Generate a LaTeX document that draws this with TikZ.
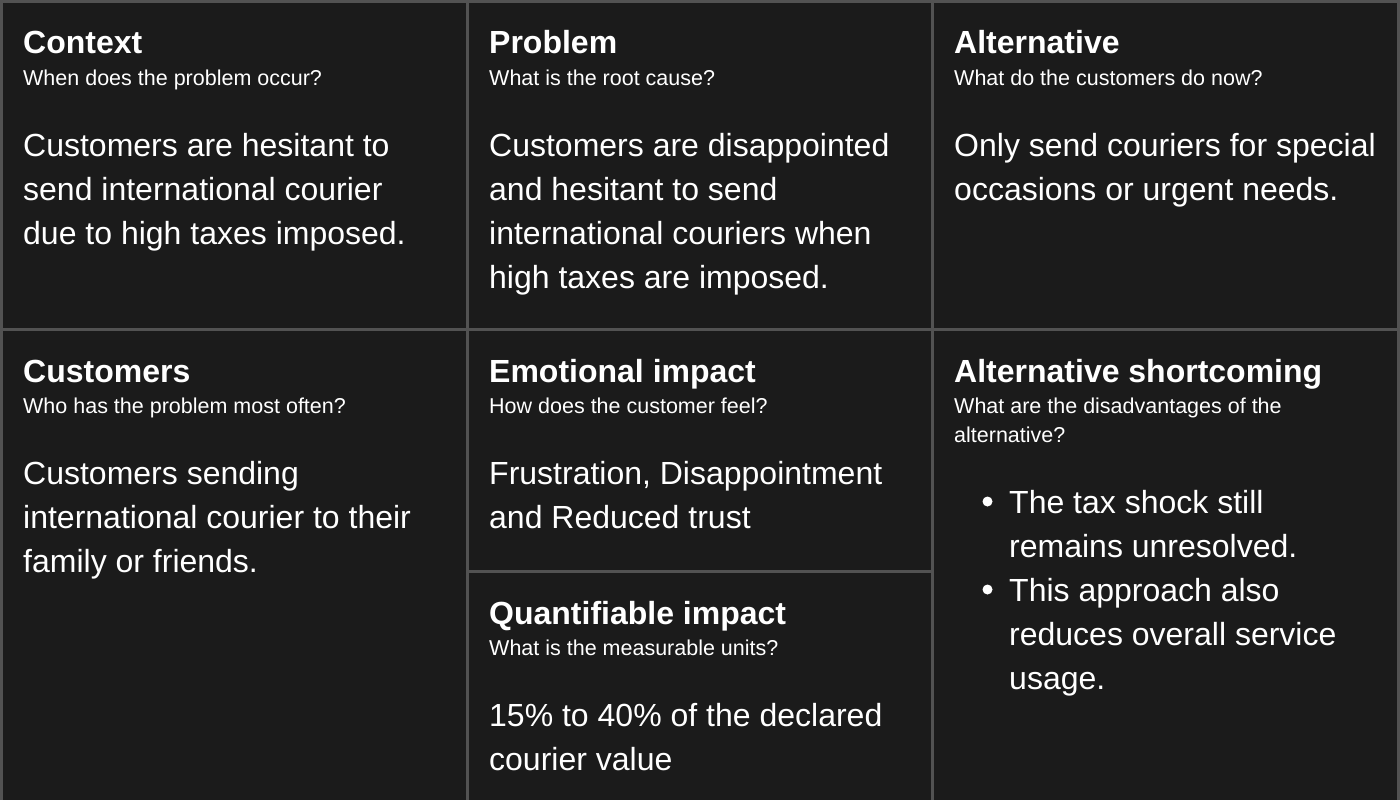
\documentclass[tikz,border=0pt]{standalone}
\usepackage{fontspec}
\setmainfont{Liberation Sans}
\usepackage{tikz}

\definecolor{canvas}{HTML}{1B1B1B}
\definecolor{rule}{HTML}{525252}

\begin{document}
\begin{tikzpicture}[x=1pt, y=-1pt,
    title/.style={anchor=base west, inner sep=0pt, text=white, font=\fontsize{32}{38}\selectfont\bfseries},
    question/.style={anchor=base west, inner sep=0pt, text=white, align=left, font=\fontsize{21.5}{29}\selectfont},
    answer/.style={anchor=base west, inner sep=0pt, text=white, align=left, font=\fontsize{32}{44}\selectfont},
    dot/.style={circle, fill=white, inner sep=0pt, minimum size=10pt}]
            \fill[canvas] (0,0) rectangle (1400,800);
            \useasboundingbox (0,0) rectangle (1400,800);
            % grid
            \draw[rule, line width=3pt] (1.5,800) -- (1.5,1.5) -- (1398.5,1.5) -- (1398.5,800);
            \draw[rule, line width=3pt] (467,0) -- (467,800);
            \draw[rule, line width=3pt] (932.5,0) -- (932.5,800);
            \draw[rule, line width=3pt] (0,329) -- (1400,329);
            \draw[rule, line width=3pt] (467,571) -- (932.5,571);
            % top row (multi-line texts sit on their last baseline)
            \node[title] (ctx-title) at (23,54) {Context};
            \node[question] (ctx-q) at (23,85) {When does the problem occur?};
            \node[answer] (ctx-text) at (23,244) {Customers are hesitant to\\send international courier\\due to high taxes imposed.};
            \node[title] (prob-title) at (489,54) {Problem};
            \node[question] (prob-q) at (489,85) {What is the root cause?};
            \node[answer] (prob-text) at (489,288) {Customers are disappointed\\and hesitant to send\\international couriers when\\high taxes are imposed.};
            \node[title] (alt-title) at (954,54) {Alternative};
            \node[question] (alt-q) at (954,85) {What do the customers do now?};
            \node[answer] (alt-text) at (954,200) {Only send couriers for special\\occasions or urgent needs.};
            % bottom row
            \node[title] (cust-title) at (23,382) {Customers};
            \node[question] (cust-q) at (23,413) {Who has the problem most often?};
            \node[answer] (cust-text) at (23,572) {Customers sending\\international courier to their\\family or friends.};
            \node[title] (emo-title) at (489,382) {Emotional impact};
            \node[question] (emo-q) at (489,413) {How does the customer feel?};
            \node[answer] (emo-text) at (489,528) {Frustration, Disappointment\\and Reduced trust};
            \node[title] (quant-title) at (489,624) {Quantifiable impact};
            \node[question] (quant-q) at (489,655) {What is the measurable units?};
            \node[answer] (quant-text) at (489,770) {15\% to 40\% of the declared\\courier value};
            \node[title] (short-title) at (954,382) {Alternative shortcoming};
            \node[question] (short-q) at (954,442) {What are the disadvantages of the\\alternative?};
            \node[dot] (short-dot1) at (987.5,501.5) {};
            \node[answer] (short-item1) at (1009,557) {The tax shock still\\remains unresolved.};
            \node[dot] (short-dot2) at (987.5,589.5) {};
            \node[answer] (short-item2) at (1009,689) {This approach also\\reduces overall service\\usage.};
        \end{tikzpicture}
\end{document}
